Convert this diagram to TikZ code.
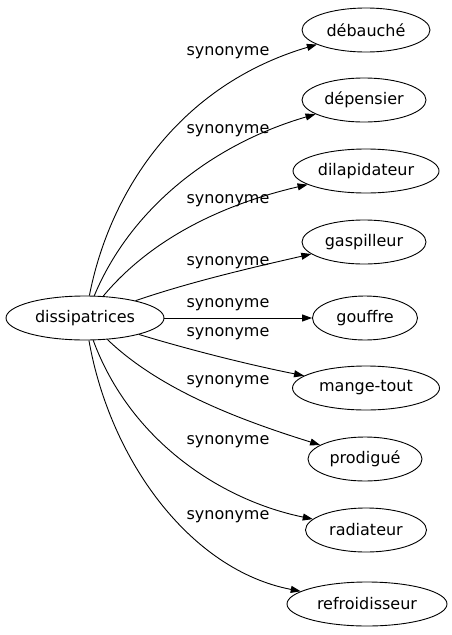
\documentclass[tikz,border=0pt]{standalone}
\usepackage{fontspec}
\setmainfont{DejaVu Sans}
\usetikzlibrary{shapes.geometric,arrows.meta}
\begin{document}
\begin{tikzpicture}[x=1pt,y=-1pt,line width=0.9pt,
  word/.style={draw,ellipse,inner sep=0pt,minimum height=44pt,font=\fontsize{16}{18}\selectfont},
  rel/.style={font=\fontsize{16}{18}\selectfont},
  edge/.style={-{Triangle[length=10pt,width=7pt]}}]
\useasboundingbox (0,0) rectangle (452,635);
\node[word,minimum width=158pt] (d) at (85,318) {dissipatrices};
\node[word,minimum width=128pt] (t1) at (366,30) {débauché};
\node[word,minimum width=124pt] (t2) at (364,100) {dépensier};
\node[word,minimum width=146pt] (t3) at (366,171) {dilapidateur};
\node[word,minimum width=124pt] (t4) at (364,242) {gaspilleur};
\node[word,minimum width=105pt] (t5) at (365,318) {gouffre};
\node[word,minimum width=147pt] (t6) at (366,388) {mange-tout};
\node[word,minimum width=114pt] (t7) at (365,459) {prodigué};
\node[word,minimum width=121pt] (t8) at (366,530) {radiateur};
\node[word,minimum width=160pt] (t9) at (367,604) {refroidisseur};
\draw[edge] (d) .. controls (110,190) and (180,85) .. (t1);
\draw[edge] (d) .. controls (130,210) and (210,145) .. (t2);
\draw[edge] (d) .. controls (150,240) and (220,205) .. (t3);
\draw[edge] (d) .. controls (190,282) and (250,268) .. (t4);
\draw[edge] (d) -- (t5);
\draw[edge] (d) .. controls (190,350) and (250,365) .. (t6);
\draw[edge] (d) .. controls (160,390) and (240,420) .. (t7);
\draw[edge] (d) .. controls (130,440) and (220,500) .. (t8);
\draw[edge] (d) .. controls (110,460) and (190,570) .. (t9);
\node[rel] (l1) at (228,53) {synonyme};
\node[rel] (l2) at (228,131) {synonyme};
\node[rel] (l3) at (228,201) {synonyme};
\node[rel] (l4) at (228,263) {synonyme};
\node[rel] (l5) at (228,305) {synonyme};
\node[rel] (l6) at (228,334) {synonyme};
\node[rel] (l7) at (228,382) {synonyme};
\node[rel] (l8) at (228,442) {synonyme};
\node[rel] (l9) at (228,517) {synonyme};
\end{tikzpicture}
\end{document}
